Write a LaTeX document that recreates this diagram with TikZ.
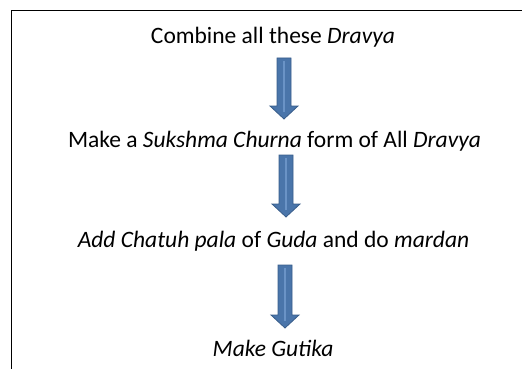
\documentclass[tikz,border=0pt]{standalone}
\usepackage{fontspec}
\setmainfont{Carlito}
\definecolor{arrowfill}{HTML}{4A75AA}
\definecolor{arrowedge}{HTML}{385D8A}
\definecolor{arrowshine}{HTML}{6A93C6}
\tikzset{
  steptext/.style={font=\fontsize{23.5}{28}\selectfont, inner sep=0pt, anchor=base},
  pics/blockarrow/.style={code={
    % shaft 14 wide, head 28 wide and 13 long, total length #1 (in px)
    \path[fill=arrowfill, draw=arrowedge, line width=0.8pt, line join=miter]
      (-7,0) -- (7,0) -- (7,-#1+13) -- (14,-#1+13) -- (0,-#1)
      -- (-14,-#1+13) -- (-7,-#1+13) -- cycle;
    \draw[arrowshine, line width=1.8pt] (0,-3) -- (0,-#1+7);
  }}
}
\begin{document}
\begin{tikzpicture}[x=1pt, y=1pt]
  \useasboundingbox (0,0) rectangle (522,-369);
  % open frame: top and left edges
  \draw[line width=1.4pt] (522,-10.5) -- (11.5,-10.5) -- (11.5,-369);
  % steps
  \node[steptext] (s1) at (273,-44) {Combine all these \textit{Dravya}};
  \node[steptext] (s2) at (274.5,-147) {Make a \textit{Sukshma Churna} form of All \textit{Dravya}};
  \node[steptext] (s3) at (273.5,-247) {\textit{Add Chatuh pala} of \textit{Guda} and do \textit{mardan}};
  \node[steptext] (s4) at (273,-356) {\textit{Make Gutika}};
  % block arrows between the steps
  \pic at (284,-58) {blockarrow=61};
  \pic at (286,-155) {blockarrow=62};
  \pic at (285,-265) {blockarrow=63};
\end{tikzpicture}
\end{document}
